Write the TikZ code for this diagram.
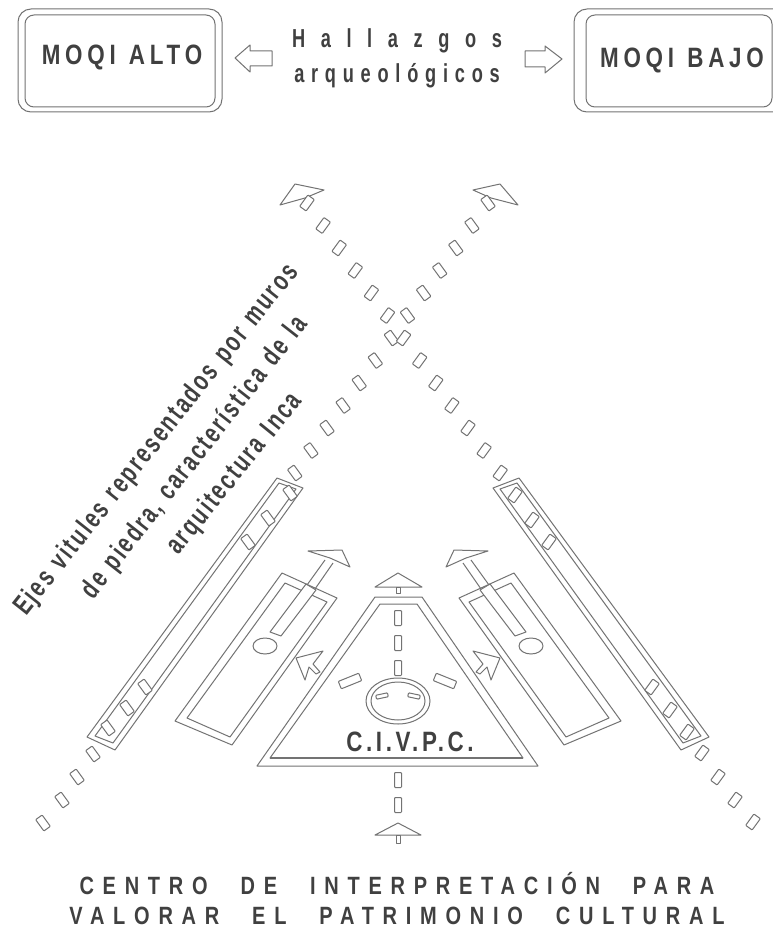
\documentclass[tikz,border=0pt]{standalone}
\usepackage{fontspec}
\setmainfont{Liberation Sans}
\newfontfamily\lab[FakeStretch=.8,LetterSpace=17,WordSpace=1.2]{Liberation Sans}
\newfontfamily\labwide[FakeStretch=.7,LetterSpace=60]{Liberation Sans}
\newfontfamily\labmid[FakeStretch=.7,LetterSpace=26]{Liberation Sans}
\newfontfamily\labciv[FakeStretch=.8,LetterSpace=13]{Liberation Sans}
\newfontfamily\labfoot[FakeStretch=.8,LetterSpace=35,WordSpace=2.3]{Liberation Sans}
\newfontfamily\labside[FakeStretch=.72,LetterSpace=8,WordSpace=1.3]{Liberation Sans}
\definecolor{ink}{gray}{0.45}
\definecolor{txt}{gray}{0.25}
\tikzset{
  x=1pt,y=-1pt,
  wire/.style={draw=ink,line width=1pt,line join=round,fill=white},
  wireopen/.style={draw=ink,line width=1pt,line join=round},
  hole/.style={draw=ink,line width=1pt,fill=white,rounded corners=0.8pt},
  lbl/.style={text=txt,inner sep=0pt,align=center}
}
\newcommand{\holedash}[3]{\draw[hole,shift={(#1,#2)},rotate=#3] (-7,-4) rectangle (7,4);}
\begin{document}
\begin{tikzpicture}
\useasboundingbox (0,0) rectangle (773,931);
% boxes
\draw[wire,rounded corners=13pt] (18,9) rectangle (222,112);
\draw[wire,rounded corners=9pt] (25,15) rectangle (215,107);
\draw[wire,rounded corners=13pt] (574,9) -- (790,9) -- (790,112) -- (574,112) -- cycle;
\draw[wire,rounded corners=9pt] (586,15) rectangle (772,107);
\node[lbl,font=\lab\bfseries\fontsize{28}{30}\selectfont] (alto) at (122,57) {MOQI ALTO};
\node[lbl,font=\lab\bfseries\fontsize{28}{30}\selectfont] (bajo) at (682,60) {MOQI BAJO};
\node[lbl,font=\labwide\bfseries\fontsize{26}{28}\selectfont] (hall) at (397,41) {Hallazgos};
\node[lbl,font=\labmid\bfseries\fontsize{26}{28}\selectfont] (arq) at (397,76) {arqueológicos};
% hollow arrows
\draw[wire] (235,58) -- (250,45) -- (250,51) -- (272,51) -- (272,66) -- (250,66) -- (250,72) -- cycle;
\draw[wire] (562,59) -- (545,46) -- (545,51) -- (525,51) -- (525,67) -- (545,67) -- (545,73) -- cycle;
% top arrows
\draw[wire] (295,184) -- (324,190) -- (305,198) -- (280,205) -- cycle;
\draw[wire] (500,184) -- (473,190) -- (491,198) -- (518,205) -- cycle;
% axes dashes, upper run
\foreach \j in {0,...,12} {
  \pgfmathsetmacro\px{488-16.1*\j}\pgfmathsetmacro\py{203+22.5*\j}
  \holedash{\px}{\py}{-54}
  \pgfmathsetmacro\qx{795-\px}
  \holedash{\qx}{\py}{54}
}
% lower runs
\foreach \px/\py in {43/823,62/800,77/777,93/754} {\holedash{\px}{\py}{-54}}
\foreach \px/\py in {753/822,735/800,718/777,702/753} {\holedash{\px}{\py}{54}}
% long bars
\draw[wire] (87,737) -- (115,750) -- (303,488) -- (277,478) -- cycle;
\draw[wire] (95,736) -- (113,743) -- (296,489) -- (279,483) -- cycle;
\draw[wire] (709,737) -- (681,750) -- (493,488) -- (519,478) -- cycle;
\draw[wire] (701,736) -- (683,743) -- (500,489) -- (517,483) -- cycle;
\foreach \px/\py in {290/493,268/518,248/542,145/687,127/708,108/728} {\holedash{\px}{\py}{-54}}
\foreach \px/\py in {515/495,532/520,549/542,652/687,670/710,687/732} {\holedash{\px}{\py}{54}}
% inner rectangles
\draw[wire] (282,573) -- (337,598) -- (232,745) -- (175,721) -- cycle;
\draw[wire] (285,583) -- (327,602) -- (230,737) -- (187,718) -- cycle;
\draw[wire] (514,573) -- (459,598) -- (564,745) -- (621,721) -- cycle;
\draw[wire] (511,583) -- (469,602) -- (566,737) -- (609,718) -- cycle;
% slots and stems
\draw[wire] (270,632) -- (281,636) -- (316,590) -- (306,584) -- cycle;
\draw[wireopen] (307,585) -- (325,560) (315,589) -- (333,563);
\draw[wire] (526,632) -- (515,636) -- (480,590) -- (490,584) -- cycle;
\draw[wireopen] (489,585) -- (471,560) (481,589) -- (463,563);
\draw[wire] (308,551) -- (342,550) -- (350,567) -- (330,558) -- cycle;
\draw[wire] (488,551) -- (454,550) -- (446,567) -- (466,558) -- cycle;
\draw[wire] (265,646) ellipse [x radius=12,y radius=8];
\draw[wire] (531,646) ellipse [x radius=12,y radius=8];
% small side arrows
\draw[wire] (296,658) -- (323,651) -- (313,664) -- (320,672) -- (316,674) -- (309,667) -- (305,680) -- cycle;
\draw[wire] (500,658) -- (473,651) -- (483,664) -- (476,672) -- (480,674) -- (487,667) -- (491,680) -- cycle;
% triangle
\draw[wire] (257,766) -- (538,766) -- (422,597) -- (375,597) -- cycle;
\draw[wire] (270,758) -- (523,758) -- (417,604) -- (380,604) -- cycle;
\draw[draw=ink,line width=1.8pt] (270,758) -- (523,758);
% center axis
\draw[wire] (375,587) -- (398,573) -- (422,587) -- cycle;
\draw[wire] (375,835) -- (398,823) -- (421,835) -- cycle;
\draw[wire] (396,587) rectangle (400,593);
\draw[wire] (396,835) rectangle (400,843);
\foreach \y in {618,643,668,780,805} {\draw[hole] (394.5,\y-7.5) rectangle (401.5,\y+7.5);}
\draw[hole,shift={(350,681)},rotate=22] (-11,-4) rectangle (11,4);
\draw[hole,shift={(445,681)},rotate=-22] (-11,-4) rectangle (11,4);
% circle
\draw[wire] (398,701) ellipse [x radius=32,y radius=23];
\draw[wire] (398,701) ellipse [x radius=27,y radius=19];
\draw[hole,shift={(382,696)},rotate=12] (-6,-2) rectangle (6,2);
\draw[hole,shift={(414,696)},rotate=-12] (-6,-2) rectangle (6,2);
\node[lbl,font=\labciv\bfseries\fontsize{28}{30}\selectfont] (civpc) at (410,742) {C.I.V.P.C.};
% slanted text
\node[lbl,rotate=51.6,font=\labside\bfseries\fontsize{28}{30}\selectfont] (t1) at (157,440) {Ejes vitules representados por muros};
\node[lbl,rotate=52,font=\labside\bfseries\fontsize{28}{30}\selectfont] (t2) at (195,458) {de piedra, característica de la};
\node[lbl,rotate=51,font=\labside\bfseries\fontsize{28}{30}\selectfont] (t3) at (235,474) {arquitectura Inca};
% footer
\node[lbl,font=\labfoot\bfseries\fontsize{25}{28}\selectfont] (f1) at (397,884) {CENTRO DE INTERPRETACIÓN PARA};
\node[lbl,font=\labfoot\bfseries\fontsize{25}{28}\selectfont] (f2) at (397,916) {VALORAR EL PATRIMONIO CULTURAL};
\end{tikzpicture}
\end{document}
